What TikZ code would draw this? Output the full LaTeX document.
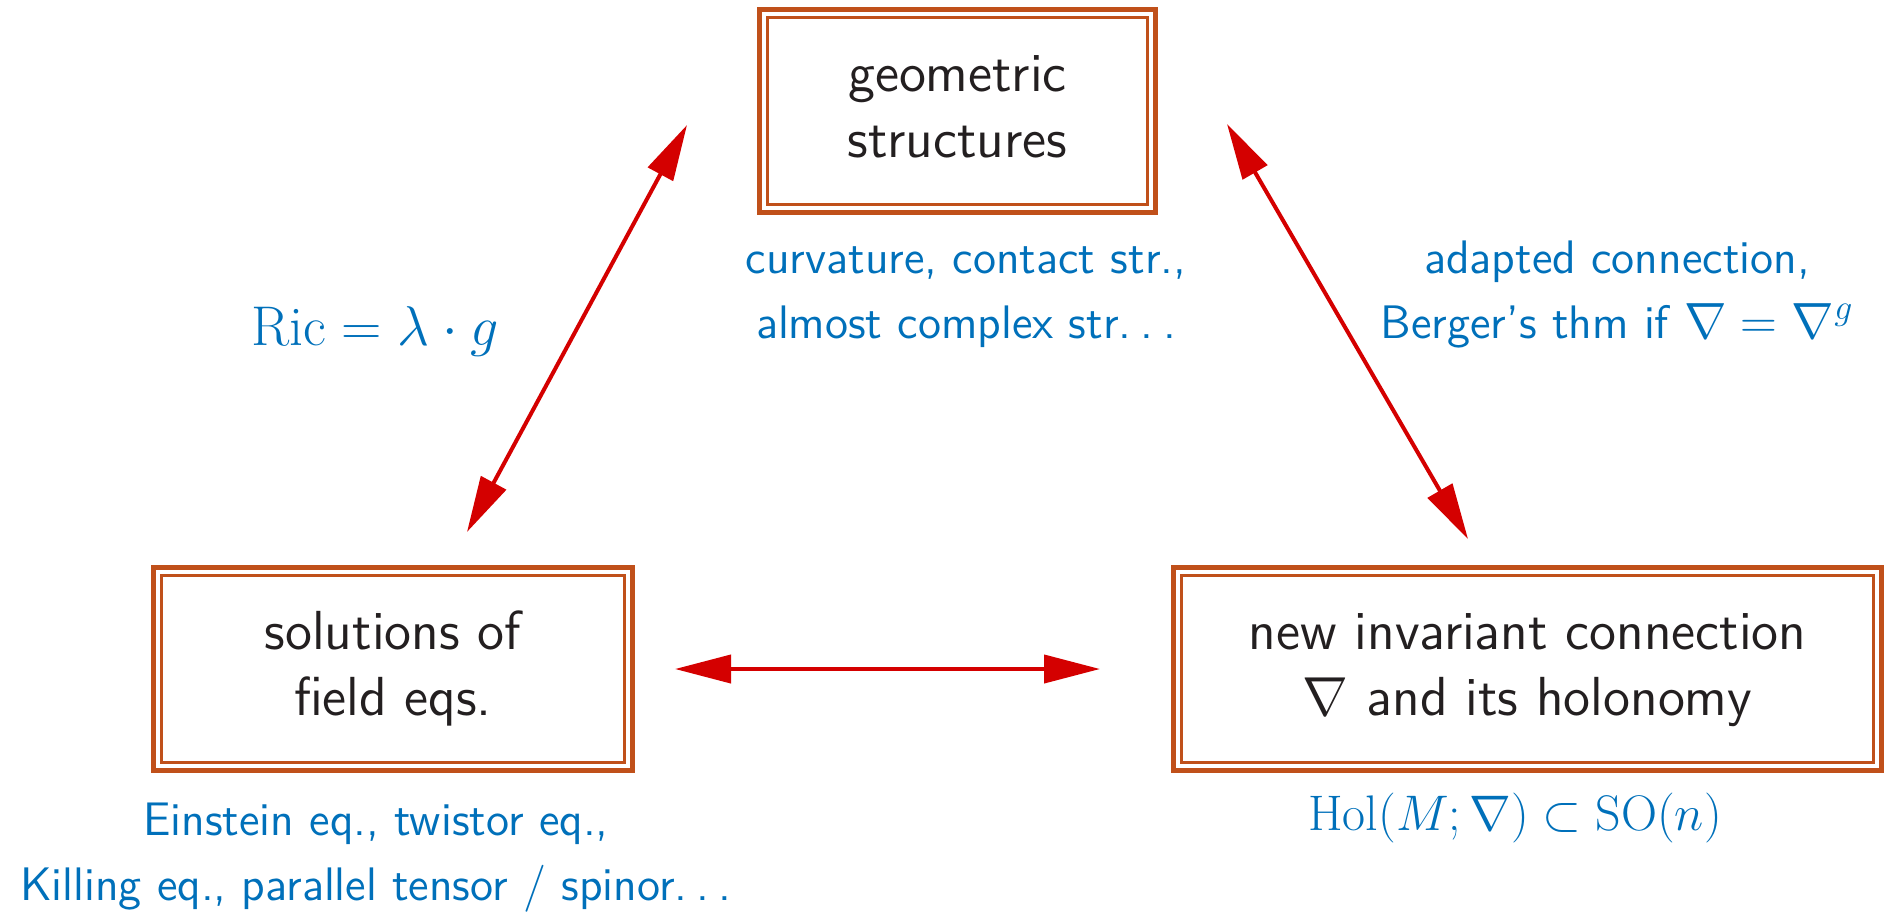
\RequirePackage{fix-cm}
\documentclass[tikz,border=0pt]{standalone}
\usepackage{fontspec}
\setsansfont{lmsans12-regular.otf}
\usetikzlibrary{arrows.meta}
\definecolor{boxorange}{RGB}{192,80,26}
\definecolor{arrred}{RGB}{212,0,0}
\definecolor{lblblue}{RGB}{0,112,186}
\definecolor{txtblack}{RGB}{35,31,32}
\newcommand\mydots{.\kern.2em.\kern.2em.}
\tikzset{
  dbox/.style={draw=boxorange, line width=2.5pt, rectangle, inner sep=0pt, outer sep=0pt,
     minimum height=101.5pt, align=center, text=txtblack,
     font=\sffamily\fontsize{27.5}{33}\selectfont},
  innerframe/.style={draw=boxorange, line width=1.5pt},
  lbl/.style={text=lblblue, align=center, inner sep=0pt,
     font=\sffamily\fontsize{23.5}{32.5}\selectfont},
  biarrow/.style={draw=arrred, line width=2pt,
     {Triangle[length=28pt,width=14pt]}-{Triangle[length=28pt,width=14pt]}},
}
\begin{document}
\begin{tikzpicture}[x=0.5pt,y=-0.5pt]
\useasboundingbox (0,0) rectangle (1890,912);

% boxes
\node[dbox, minimum width=198pt] (geo) at (957.5,111)
  {\strut geometric\\\strut structures};
\node[dbox, minimum width=239.5pt] (sol) at (393,669)
  {\strut solutions of\\\strut field eqs.};
\node[dbox, minimum width=354pt] (con) at (1527.5,669)
  {\strut new invariant connection\\\strut $\nabla$ and its holonomy};

\foreach \b in {geo,sol,con}{
  \draw[innerframe] ([shift={(4pt,-4pt)}]\b.north west) rectangle ([shift={(-4pt,4pt)}]\b.south east);
}

% labels
\node[lbl] (curv) at (966,292.5)
  {\strut curvature, contact str.,\\\strut almost complex str\mydots};
\node[lbl] (adapt) at (1617,292.5)
  {\strut adapted connection,\\\strut Berger’s thm if {\fontsize{25.5}{32.5}\selectfont$\nabla=\nabla^g$}};
\node[lbl, anchor=base, font=\fontsize{28}{32.5}\selectfont] (ric) at (375,345)
  {$\mathrm{Ric}=\lambda\cdot g$};
\node[lbl] (einst) at (376,854.5)
  {\strut Einstein eq., twistor eq.,\\\strut Killing eq., parallel tensor / spinor\mydots};
\node[lbl, anchor=base, font=\fontsize{25}{32.5}\selectfont] (hol) at (1515,830)
  {$\mathrm{Hol}(M;\nabla)\subset\mathrm{SO}(n)$};

% arrows
\coordinate (l1) at (467,532);
\coordinate (l2) at (687,125);
\coordinate (r1) at (1227,124);
\coordinate (r2) at (1468,539);
\coordinate (h1) at (675,669);
\coordinate (h2) at (1100,669);
\draw[biarrow] (l1) -- (l2);
\draw[biarrow] (r1) -- (r2);
\draw[biarrow] (h1) -- (h2);
\end{tikzpicture}
\end{document}
